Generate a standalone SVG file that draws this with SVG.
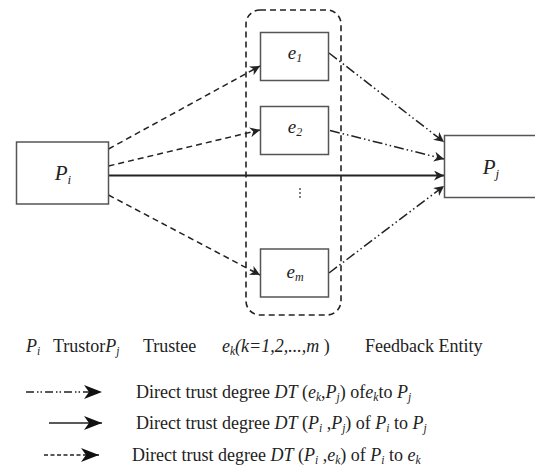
<svg xmlns="http://www.w3.org/2000/svg" width="535" height="467" viewBox="0 0 535 467">
  <defs>
    <style>
      .box { fill: #ffffff; stroke: #555555; stroke-width: 1.5; }
      .grp { fill: none; stroke: #222222; stroke-width: 1.6; stroke-dasharray: 6 4; }
      .c { fill: none; stroke: #222222; stroke-width: 1.5; }
      .dash { stroke-dasharray: 6 4; }
      .ddot { stroke-dasharray: 10 3 1.5 3 1.5 3; }
      .solid { stroke-width: 2; }
      text { font-family: "Liberation Serif", "DejaVu Serif", serif; fill: #222222; }
      .i { font-style: italic; }
      .s { font-style: italic; font-size: 11.5px; }
    </style>
    <marker id="ah" viewBox="0 0 10 10" refX="10" refY="5" markerWidth="10" markerHeight="10" markerUnits="userSpaceOnUse" orient="auto">
      <path d="M0,0 L10,5 L0,10 L3,5 z" fill="#222222"/>
    </marker>
    <marker id="ahL" viewBox="0 0 18 14" refX="18" refY="7" markerWidth="18" markerHeight="14" markerUnits="userSpaceOnUse" orient="auto">
      <path d="M0,0 L18,7 L0,14 L5,7 z" fill="#111111"/>
    </marker>
  </defs>

  <!-- feedback entity group -->
  <rect id="group" class="grp" x="246" y="10" width="95" height="305" rx="14" ry="14"/>

  <!-- connectors -->
  <g id="connectors">
    <line class="c dash" x1="108.5" y1="149" x2="260" y2="66" marker-end="url(#ah)"/>
    <line class="c dash" x1="108.5" y1="166" x2="260" y2="130" marker-end="url(#ah)"/>
    <line class="c dash" x1="108.5" y1="195" x2="260" y2="275" marker-end="url(#ah)"/>
    <line class="c solid" x1="108.5" y1="175.5" x2="444" y2="175.5" marker-end="url(#ah)"/>
    <line class="c ddot" x1="329" y1="53" x2="444" y2="142" marker-end="url(#ah)"/>
    <line class="c ddot" x1="330" y1="130.5" x2="444" y2="159" marker-end="url(#ah)"/>
    <line class="c ddot" x1="329" y1="273" x2="444" y2="186" marker-end="url(#ah)"/>
  </g>

  <!-- nodes -->
  <g id="node-pi">
    <rect class="box" x="16.5" y="142" width="92" height="62"/>
    <text class="i" x="63" y="180" font-size="21" text-anchor="middle">P<tspan font-size="13" dy="4">i</tspan></text>
  </g>
  <g id="node-pj">
    <rect class="box" x="444.5" y="135.5" width="92" height="62"/>
    <text class="i" x="491" y="174" font-size="21" text-anchor="middle">P<tspan font-size="13" dy="4">j</tspan></text>
  </g>
  <g id="node-e1">
    <rect class="box" x="260.5" y="32.5" width="68" height="48"/>
    <text class="i" x="295" y="59" font-size="19" text-anchor="middle">e<tspan font-size="12" dy="3">1</tspan></text>
  </g>
  <g id="node-e2">
    <rect class="box" x="260.5" y="106.5" width="68" height="48"/>
    <text class="i" x="295" y="133" font-size="19" text-anchor="middle">e<tspan font-size="12" dy="3">2</tspan></text>
  </g>
  <g id="node-em">
    <rect class="box" x="260.5" y="249" width="68" height="48"/>
    <text class="i" x="295" y="278" font-size="19" text-anchor="middle">e<tspan font-size="12" dy="3">m</tspan></text>
  </g>
  <!-- vertical ellipsis between e2 and em -->
  <g id="ellipsis" fill="#444444">
    <circle cx="300" cy="189" r="0.9"/>
    <circle cx="300" cy="193" r="0.9"/>
    <circle cx="300" cy="197" r="0.9"/>
  </g>

  <!-- legend -->
  <g id="legend" font-size="18">
    <text y="352"><tspan class="i" x="26">P</tspan><tspan class="s" dy="3">i</tspan><tspan dy="-3" x="53">Trustor</tspan><tspan class="i">P</tspan><tspan class="s" dy="3">j</tspan><tspan dy="-3" x="143">Trustee</tspan><tspan class="i" x="222">e</tspan><tspan class="s" dy="3">k</tspan><tspan class="i" dy="-3">(k=1,2,...,m</tspan><tspan> )</tspan><tspan x="365">Feedback Entity</tspan></text>

    <line class="c" x1="26" y1="392" x2="102" y2="392" stroke-width="1.2" stroke-dasharray="8 3 1.5 2 1.5 3" marker-end="url(#ahL)"/>
    <text x="136" y="398">Direct trust degree <tspan class="i">DT</tspan> (<tspan class="i">e</tspan><tspan class="s" dy="3">k</tspan><tspan dy="-3">,</tspan><tspan class="i">P</tspan><tspan class="s" dy="3">j</tspan><tspan dy="-3">) of</tspan><tspan class="i">e</tspan><tspan class="s" dy="3">k</tspan><tspan dy="-3">to </tspan><tspan class="i">P</tspan><tspan class="s" dy="3">j</tspan></text>

    <line class="c" x1="49" y1="423" x2="102" y2="423" stroke-width="1.8" marker-end="url(#ahL)"/>
    <text x="136" y="429">Direct trust degree <tspan class="i">DT</tspan> (<tspan class="i">P</tspan><tspan class="s" dy="3">i</tspan><tspan dy="-3"> ,</tspan><tspan class="i">P</tspan><tspan class="s" dy="3">j</tspan><tspan dy="-3">)  of </tspan><tspan class="i">P</tspan><tspan class="s" dy="3">i</tspan><tspan dy="-3"> to </tspan><tspan class="i">P</tspan><tspan class="s" dy="3">j</tspan></text>

    <line class="c" x1="44" y1="455" x2="99" y2="455" stroke-width="1.2" stroke-dasharray="4 2.5" marker-end="url(#ahL)"/>
    <text x="132" y="461">Direct trust degree <tspan class="i">DT</tspan> (<tspan class="i">P</tspan><tspan class="s" dy="3">i</tspan><tspan dy="-3"> ,</tspan><tspan class="i">e</tspan><tspan class="s" dy="3">k</tspan><tspan dy="-3">) of </tspan><tspan class="i">P</tspan><tspan class="s" dy="3">i</tspan><tspan dy="-3"> to </tspan><tspan class="i">e</tspan><tspan class="s" dy="3">k</tspan></text>
  </g>
</svg>
